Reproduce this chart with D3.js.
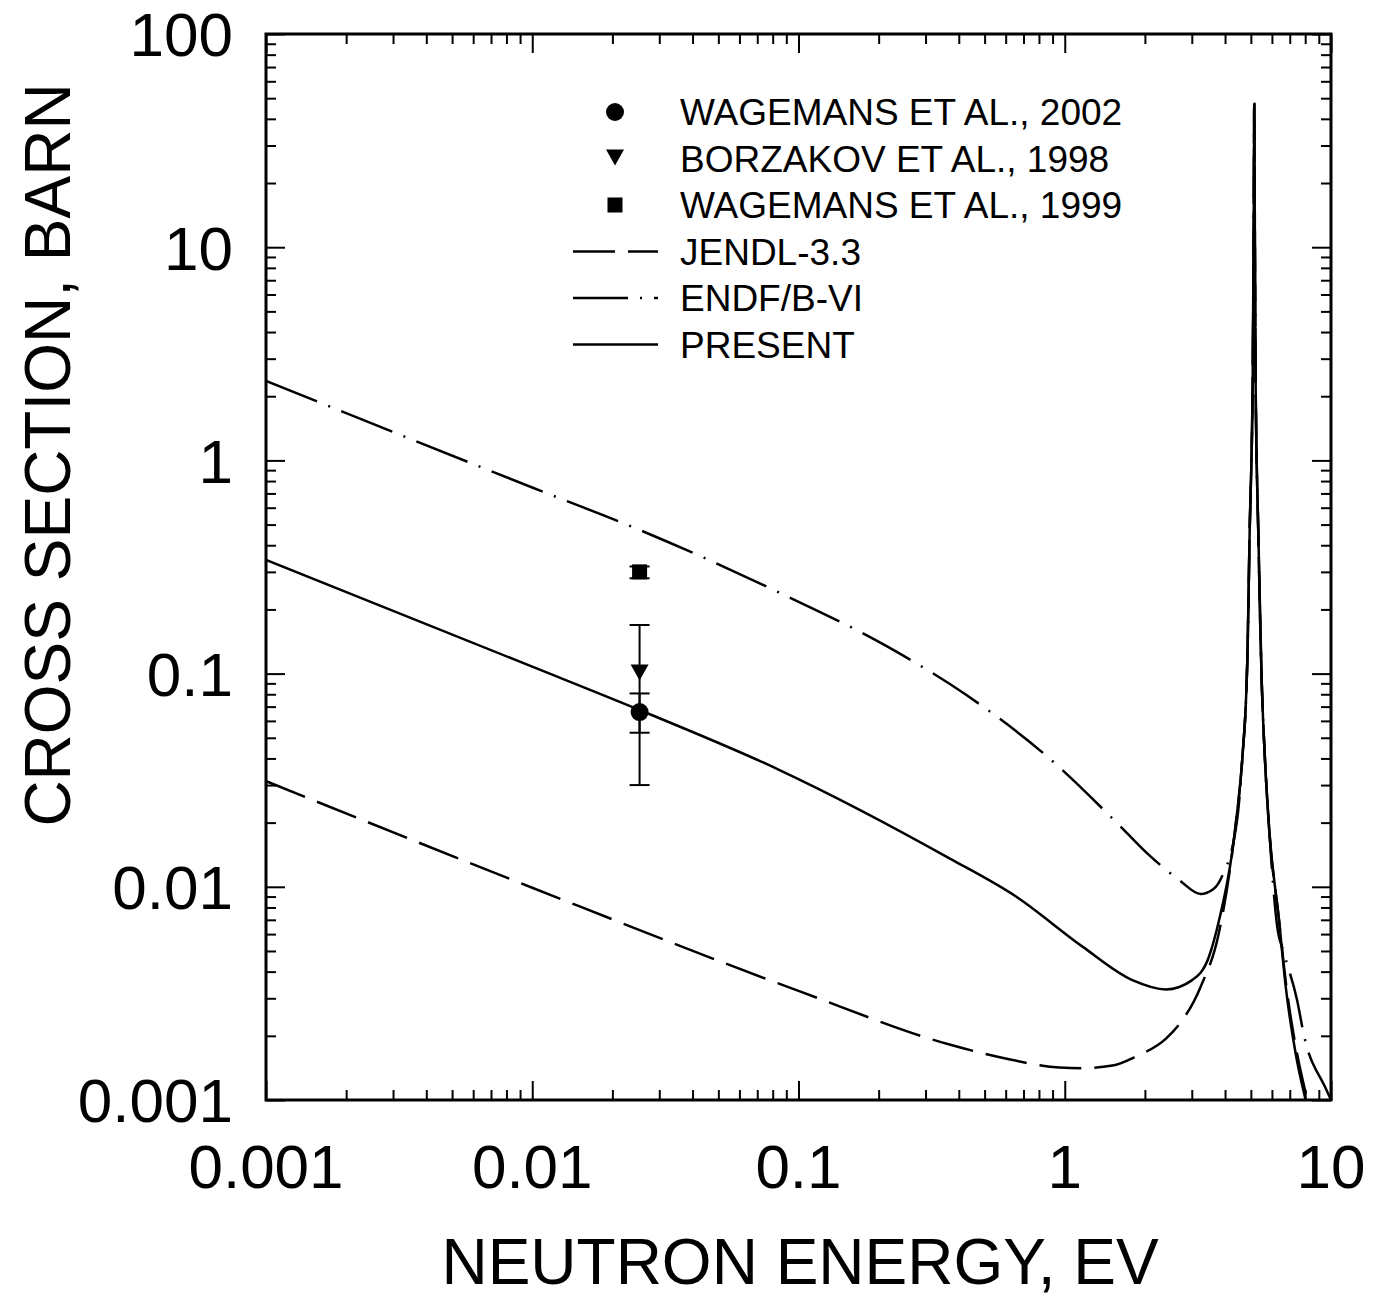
<!DOCTYPE html>
<html>
<head>
<meta charset="utf-8">
<script src="https://cdn.jsdelivr.net/npm/d3@7"></script>
<style>
  body { margin: 0; background: #fff; }
  text { font-family: "Liberation Sans", Arial, sans-serif; fill: #000; }
</style>
</head>
<body>
<svg id="canvas" width="1385" height="1297"></svg>
<script>
// tick labels
let xTickLabels = ['0.001', '0.01', '0.1', '1', '10'];
let yTickLabels = ['0.001', '0.01', '0.1', '1', '10', '100'];

// PRESENT evaluation (solid)
let presentE   = [0.001, 0.01, 0.0253, 0.0849, 0.369, 0.656, 1.166, 1.795, 2.40, 3.01, 3.48, 3.80, 4.25, 4.45, 4.64, 4.85, 4.95, 5.08, 5.13, 5.15, 5.17, 5.21, 5.33, 5.49, 5.65, 5.85, 6.38, 6.76, 7.36, 8.03, 8.4];
let presentSig = [0.341, 0.1078, 0.0675, 0.0353, 0.0136, 0.0090, 0.00524, 0.00365, 0.0033, 0.00365, 0.0047, 0.00698, 0.0144, 0.0229, 0.0394, 0.116, 0.472, 2.38, 16.6, 47, 16.6, 2.38, 0.472, 0.093, 0.0394, 0.0191, 0.00698, 0.0034, 0.00166, 0.001, 0.0008];

// JENDL-3.3 (dashed)
let jendlE   = [0.001, 0.01, 0.1, 0.369, 0.593, 0.953, 1.166, 1.51, 1.85, 2.40, 2.65, 3.24, 3.80, 4.39, 4.64, 4.85, 4.95, 5.08, 5.13, 5.15, 5.17, 5.21, 5.33, 5.49, 5.65, 5.85, 6.38, 6.8, 7.45, 8.15, 8.5];
let jendlSig = [0.0313, 0.0099, 0.00325, 0.00182, 0.00157, 0.00142, 0.00141, 0.00145, 0.0016, 0.00194, 0.00221, 0.0034, 0.00615, 0.0199, 0.0394, 0.116, 0.472, 2.38, 16.6, 47, 16.6, 2.38, 0.472, 0.093, 0.0394, 0.0191, 0.00698, 0.0034, 0.00166, 0.001, 0.0008];

// ENDF/B-VI (dash-dot)
let endfE   = [0.001, 0.01, 0.0253, 0.0849, 0.2135, 0.426, 0.862, 1.67, 2.06, 2.69, 3.24, 3.61, 3.89, 4.44, 4.64, 4.85, 4.95, 5.08, 5.13, 5.15, 5.17, 5.21, 5.33, 5.49, 5.65, 5.85, 6.28, 6.66, 7.46, 7.91, 9.55, 10];
let endfSig = [2.36, 0.746, 0.472, 0.2395, 0.1348, 0.0795, 0.0407, 0.01846, 0.0142, 0.01076, 0.00925, 0.00973, 0.01115, 0.0206, 0.0394, 0.116, 0.472, 2.38, 16.6, 47, 16.6, 2.38, 0.472, 0.093, 0.0394, 0.0191, 0.0065, 0.00489, 0.00294, 0.00202, 0.001135, 0.001];

// measurements at thermal energy
let expNames = ['WAGEMANS ET AL., 2002', 'BORZAKOV ET AL., 1998', 'WAGEMANS ET AL., 1999'];
let expSymbols = ['circle', 'triangle', 'square'];
let expE    = [0.0253, 0.0253, 0.0253];
let expSig  = [0.066, 0.10, 0.30];
let expLow  = [0.0528, 0.030, 0.28];
let expHigh = [0.0807, 0.169, 0.318];

// curve legend
let curveNames = ['JENDL-3.3', 'ENDF/B-VI', 'PRESENT'];
let curveDash = ['42,13', '55,12,2,12', null];

let canvas = d3.select('#canvas');

let plotLeft = 266, plotRight = 1331, plotTop = 34, plotBottom = 1100;
let x = d3.scaleLog().domain([0.001, 10]).range([plotLeft, plotRight]);
let y = d3.scaleLog().domain([0.001, 100]).range([plotBottom, plotTop]);

//split log ticks in majors and minors
let isMajor = (v) => Math.abs(Math.log10(v) - Math.round(Math.log10(v))) < 1e-6;
let xMajor = x.ticks().filter(isMajor), xMinor = x.ticks().filter(v => !isMajor(v));
let yMajor = y.ticks().filter(isMajor), yMinor = y.ticks().filter(v => !isMajor(v));

let styleAxis = (g) => {
    g.select('.domain').remove();
    g.selectAll('.tick line').attr('stroke', '#000').attr('stroke-width', 2);
    g.selectAll('.tick text').remove();
};

//inward ticks on all four sides
[[xMinor, 10], [xMajor, 19]].forEach(([vals, len]) => {
    canvas.append('g').attr('transform', 'translate(0,' + plotBottom + ')')
        .call(d3.axisBottom(x).tickValues(vals).tickSize(-len)).call(styleAxis);
    canvas.append('g').attr('transform', 'translate(0,' + plotTop + ')')
        .call(d3.axisTop(x).tickValues(vals).tickSize(-len)).call(styleAxis);
});
[[yMinor, 10], [yMajor, 19]].forEach(([vals, len]) => {
    canvas.append('g').attr('transform', 'translate(' + plotLeft + ',0)')
        .call(d3.axisLeft(y).tickValues(vals).tickSize(-len)).call(styleAxis);
    canvas.append('g').attr('transform', 'translate(' + plotRight + ',0)')
        .call(d3.axisRight(y).tickValues(vals).tickSize(-len)).call(styleAxis);
});

//tick labels
canvas.selectAll('.xlab').data(xMajor).enter().append('text')
    .attr('x', d => x(d)).attr('y', 1188)
    .attr('text-anchor', 'middle').style('font-size', '62px')
    .text((d, i) => xTickLabels[i]);
canvas.selectAll('.ylab').data(yMajor).enter().append('text')
    .attr('x', 233).attr('y', d => y(d)).attr('dy', '0.36em')
    .attr('text-anchor', 'end').style('font-size', '62px')
    .text((d, i) => yTickLabels[i]);

//axis titles
canvas.append('text').attr('x', 800).attr('y', 1284)
    .attr('text-anchor', 'middle').style('font-size', '64px')
    .text('NEUTRON ENERGY, EV');
canvas.append('text').attr('transform', 'translate(70,455) rotate(-90)')
    .attr('text-anchor', 'middle').style('font-size', '64px')
    .text('CROSS SECTION, BARN');

//curves
canvas.append('clipPath').attr('id', 'plotclip').append('rect')
    .attr('x', plotLeft).attr('y', plotTop).attr('width', plotRight - plotLeft).attr('height', plotBottom - plotTop);

let line = d3.line().x(d => x(d[0])).y(d => y(d[1])).curve(d3.curveMonotoneX);
let curves = [
    [jendlE, jendlSig, curveDash[0]],
    [endfE, endfSig, curveDash[1]],
    [presentE, presentSig, curveDash[2]]
];
let plot = canvas.append('g').attr('clip-path', 'url(#plotclip)');
curves.forEach(([es, ss, dash]) => {
    plot.append('path')
        .datum(es.map((e, i) => [e, ss[i]]))
        .attr('d', line)
        .attr('fill', 'none').attr('stroke', '#000').attr('stroke-width', 2.5)
        .attr('stroke-dasharray', dash);
});

//error bars and symbols
let drawSymbol = (g, kind, cx, cy) => {
    if (kind === 'circle') {
        g.append('circle').attr('cx', cx).attr('cy', cy).attr('r', 9);
    } else if (kind === 'triangle') {
        g.append('path').attr('d', 'M' + (cx - 9) + ',' + (cy - 9) + 'L' + (cx + 9) + ',' + (cy - 9) + 'L' + cx + ',' + (cy + 7) + 'Z');
    } else {
        g.append('rect').attr('x', cx - 7.5).attr('y', cy - 7.5).attr('width', 15).attr('height', 15);
    }
};
let points = canvas.append('g');
expE.forEach((e, i) => {
    let cx = x(e);
    points.append('line').attr('x1', cx).attr('x2', cx)
        .attr('y1', y(expLow[i])).attr('y2', y(expHigh[i]))
        .attr('stroke', '#000').attr('stroke-width', 2);
    [expLow[i], expHigh[i]].forEach(v => {
        points.append('line').attr('x1', cx - 10).attr('x2', cx + 10)
            .attr('y1', y(v)).attr('y2', y(v))
            .attr('stroke', '#000').attr('stroke-width', 2);
    });
    drawSymbol(points, expSymbols[i], cx, y(expSig[i]));
});

//legend
let legend = canvas.append('g');
let rowY = (i) => 112 + i * 46.5;
expNames.forEach((name, i) => {
    drawSymbol(legend, expSymbols[i], 615, rowY(i));
    legend.append('text').attr('x', 680).attr('y', rowY(i)).attr('dy', '0.36em')
        .style('font-size', '37px').text(name);
});
curveNames.forEach((name, j) => {
    let i = j + 3;
    legend.append('line').attr('x1', 573).attr('x2', 658)
        .attr('y1', rowY(i)).attr('y2', rowY(i))
        .attr('stroke', '#000').attr('stroke-width', 2.5)
        .attr('stroke-dasharray', curveDash[j]);
    legend.append('text').attr('x', 680).attr('y', rowY(i)).attr('dy', '0.36em')
        .style('font-size', '37px').text(name);
});

//frame
canvas.append('rect').attr('x', plotLeft).attr('y', plotTop)
    .attr('width', plotRight - plotLeft).attr('height', plotBottom - plotTop)
    .attr('fill', 'none').attr('stroke', '#000').attr('stroke-width', 3);
</script>
</body>
</html>
